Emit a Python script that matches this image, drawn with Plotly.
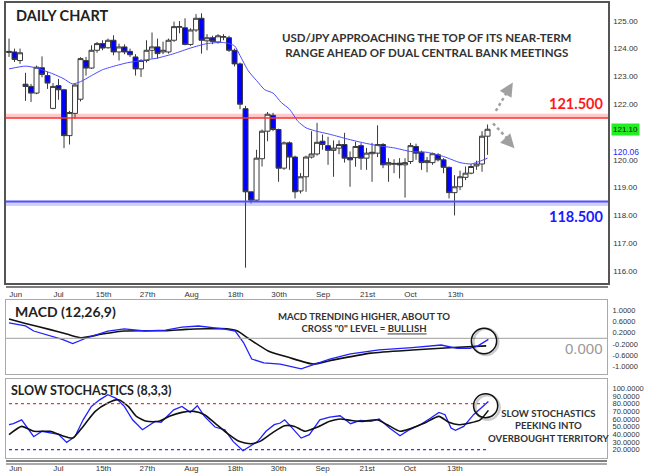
import plotly.graph_objects as go

W, H = 645, 475

# ---------------- data ----------------
candle_idx = list(range(88))
opens = [123.86, 123.88, 123.57, 122.72, 122.64, 122.40, 123.31, 123.03, 121.85, 122.67,
         122.52, 120.87, 121.67, 122.18, 123.57, 123.30, 123.94, 124.18, 124.03, 124.30,
         123.88, 124.06, 123.90, 123.70, 123.27, 123.57, 123.94, 124.06, 123.88, 123.88,
         124.30, 124.77, 124.75, 124.15, 124.67, 125.09, 124.28, 124.39, 124.24, 124.41,
         124.39, 123.94, 123.45, 121.84, 118.85, 118.55, 120.04, 121.03, 121.60, 121.09,
         119.70, 120.61, 120.10, 118.88, 119.39, 120.10, 120.21, 120.67, 120.51, 120.34,
         120.42, 120.55, 120.08, 120.08, 120.51, 120.06, 120.22, 120.24, 120.55, 119.82,
         119.84, 119.88, 119.82, 119.94, 120.48, 120.27, 119.90, 119.90, 120.18, 120.00,
         119.73, 118.82, 119.03, 119.37, 119.52, 119.78, 119.85, 120.85]
highs = [124.36, 124.00, 124.00, 123.13, 122.73, 123.39, 123.72, 123.17, 122.76, 122.91,
         122.55, 121.76, 122.73, 123.69, 123.70, 124.12, 124.24, 124.30, 124.36, 124.48,
         124.18, 124.15, 124.00, 123.80, 123.62, 124.30, 124.58, 124.36, 124.25, 124.36,
         124.97, 124.99, 125.09, 124.73, 125.24, 125.27, 124.52, 124.46, 124.52, 124.52,
         124.46, 124.00, 123.50, 121.94, 118.85, 120.36, 121.09, 121.72, 121.69, 121.12,
         120.66, 120.66, 120.15, 119.52, 120.15, 121.03, 121.33, 120.91, 120.83, 120.70,
         120.70, 120.97, 120.30, 120.65, 120.60, 120.43, 120.61, 121.24, 120.60, 120.06,
         120.02, 120.06, 120.06, 120.61, 120.58, 120.33, 120.10, 120.26, 120.24, 120.06,
         119.76, 119.45, 119.61, 119.76, 119.85, 119.97, 121.03, 121.27]
lows = [123.70, 123.52, 123.45, 122.12, 122.08, 122.36, 122.97, 122.55, 121.82, 122.16,
        120.42, 120.55, 121.48, 122.10, 123.03, 123.27, 123.85, 123.94, 124.00, 123.76,
        123.57, 123.80, 123.70, 123.03, 122.98, 123.50, 123.64, 123.64, 123.80, 123.82,
        124.24, 124.55, 124.12, 124.10, 124.60, 123.82, 123.94, 124.16, 124.18, 124.30,
        123.88, 123.36, 121.82, 116.12, 118.43, 118.48, 119.76, 120.67, 121.03, 119.21,
        119.64, 119.64, 118.61, 118.79, 118.85, 120.05, 120.15, 120.36, 119.82, 119.39,
        120.20, 119.90, 119.03, 119.75, 119.64, 119.64, 119.21, 120.10, 119.70, 119.21,
        119.52, 119.33, 118.64, 119.85, 120.00, 119.64, 119.55, 119.82, 119.94, 119.52,
        118.61, 118.00, 118.91, 119.27, 119.48, 119.64, 119.57, 120.18]
closes = [123.90, 123.61, 123.85, 122.64, 122.40, 123.33, 123.07, 122.76, 122.64, 122.52,
          120.87, 121.70, 122.69, 123.64, 123.30, 123.94, 124.18, 124.02, 124.30, 123.88,
          124.06, 123.88, 123.78, 123.27, 123.57, 123.94, 124.06, 123.82, 123.94, 124.30,
          124.79, 124.79, 124.15, 124.67, 125.09, 124.30, 124.39, 124.26, 124.46, 124.43,
          123.94, 123.45, 122.00, 118.85, 118.55, 120.06, 121.03, 121.64, 121.09, 119.70,
          120.61, 120.10, 118.85, 119.39, 120.10, 120.21, 120.63, 120.55, 120.34, 120.42,
          120.55, 120.06, 120.00, 120.48, 120.06, 120.24, 120.27, 120.55, 119.82, 119.90,
          119.87, 119.82, 119.90, 120.51, 120.24, 119.90, 119.97, 120.22, 120.00, 119.73,
          118.82, 119.03, 119.39, 119.52, 119.76, 119.85, 120.85, 121.10]

ma_idx = [0, 3, 5, 8, 10, 11.5, 13, 15, 17, 19.5, 21.5, 24, 27, 30, 33, 36, 39, 41, 42, 43.5,
          45, 46.5, 48, 49.5, 51, 52.5, 54, 55.5, 58.5, 61.5, 64, 67, 70, 73, 76, 79, 82, 84, 85.5, 87]
ma_vals = [123.27, 123.37, 123.30, 123.09, 122.91, 122.73, 122.81, 123.03, 123.24, 123.39,
           123.49, 123.57, 123.66, 123.82, 124.02, 124.18, 124.22, 124.10, 123.75, 123.20,
           122.85, 122.52, 122.40, 122.06, 121.82, 121.39, 121.15, 121.05, 120.91, 120.75,
           120.63, 120.51, 120.43, 120.30, 120.27, 120.12, 119.90, 119.85, 119.94, 120.06]

macd_idx = [0, 3, 4.5, 7, 9.7, 11.6, 14.2, 18, 21, 24.7, 28.5, 31.5, 34.5, 39, 41.2,
            42.7, 44.2, 46.4, 49.4, 53.2, 55.4, 58.4, 62.2, 67.4, 73.4, 78.7, 81.6, 83.9, 85.4, 87.3]
macd_vals = [0.55, 0.44, 0.26, 0.12, -0.04, -0.19, 0.02, 0.26, 0.34, 0.26, 0.29, 0.40, 0.44, 0.34, 0.26,
             -0.15, -0.74, -0.88, -0.92, -1.09, -0.95, -0.74, -0.56, -0.41, -0.33, -0.24, -0.36, -0.36, -0.27, -0.04]
signal_idx = [0, 3, 7.5, 10.5, 13.1, 17.2, 21, 28.5, 32.2, 35.9, 39.7, 41.6, 43.4, 47.2, 50.9,
              55.4, 58.4, 65.9, 73.4, 80.9, 86.9]
signal_vals = [0.69, 0.53, 0.31, 0.15, 0.02, 0.16, 0.26, 0.27, 0.32, 0.34, 0.34, 0.26, 0.02, -0.45, -0.68,
               -0.92, -0.80, -0.53, -0.42, -0.33, -0.27]

stoch_k_idx = [0, 0.8, 2.3, 3.4, 4.5, 6.0, 7.5, 9.0, 10.5, 12.0, 13.5, 15.0, 16.5, 18.0, 19.5, 21.0,
               22.5, 24.3, 26.6, 27.7, 30.0, 31.5, 33.0, 34.3, 35.6, 37.5, 39.3, 40.8, 42.6, 43.8,
               45.3, 46.8, 48.3, 49.4, 50.2, 51.3, 53.2, 54.7, 56.6, 58.4, 60.3, 62.2, 64.0, 65.9,
               67.4, 69.3, 71.2, 72.7, 74.9, 76.8, 78.3, 79.4, 80.5, 81.3, 82.8, 84.6, 86.1, 87.3]
stoch_k_vals = [52.6, 54.0, 59.0, 48.0, 37.0, 44.0, 42.0, 40.0, 29.6, 37.0, 59.0, 76.5, 85.0, 91.7, 87.0, 76.5,
                59.0, 46.0, 57.0, 55.7, 72.0, 76.5, 68.7, 77.4, 63.5, 49.6, 46.0, 30.9, 18.7, 24.3,
                30.9, 44.0, 52.6, 54.8, 59.0, 50.4, 35.2, 39.6, 59.0, 62.6, 64.3, 53.9, 58.3, 57.0,
                60.0, 48.3, 38.3, 45.2, 52.6, 61.3, 68.7, 65.7, 48.3, 45.2, 50.4, 65.7, 75.7, 83.0]
stoch_d_idx = [0, 2.3, 4.5, 7.5, 9.7, 11.6, 13.5, 15.7, 18.0, 19.9, 21.7, 23.2, 25.1, 27.3, 29.2,
               31.5, 33.7, 35.6, 37.5, 39.7, 41.9, 44.0, 45.7, 47.9, 50.2, 52.0, 53.9, 56.2, 58.4,
               60.3, 62.2, 64.4, 67.0, 68.9, 71.2, 73.4, 75.7, 78.3, 80.1, 82.0, 83.9, 85.8, 87.3]
stoch_d_vals = [39.6, 50.4, 44.0, 44.0, 38.3, 35.2, 50.4, 70.0, 80.9, 85.2, 76.5, 63.5, 57.0, 57.0, 63.5,
                68.7, 70.0, 65.7, 54.8, 41.7, 30.9, 27.8, 30.9, 41.7, 51.3, 50.4, 44.0, 49.6, 57.0,
                60.0, 58.3, 57.0, 59.0, 52.6, 44.0, 48.3, 54.8, 63.5, 55.7, 52.6, 54.8, 59.0, 71.3]

date_tick_pos = [1.2, 9.0, 17.2, 25.2, 33.2, 41.2, 49.1, 57.1, 65.2, 73.0, 81.2]
date_tick_labels = ["Jun", "Jul", "15th", "27th", "Aug", "18th", "30th", "Sep", "21st", "Oct", "13th"]
price_ticks = [116, 117, 118, 119, 120, 121, 122, 123, 124, 125]
price_tick_labels = ["116.00", "117.00", "118.00", "119.00", "120.00", "121.00", "122.00", "123.00", "124.00", "125.00"]
macd_ticks = [1.0, 0.6, 0.2, -0.2, -0.6, -1.0]
macd_tick_labels = ["1.0000", "0.6000", "0.2000", "-0.2000", "-0.6000", "-1.0000"]
stoch_ticks = [100, 90, 80, 70, 60, 50, 40, 30, 20]
stoch_tick_labels = ["100.0000", "90.0000", "80.0000", "70.0000", "60.0000", "50.0000", "40.0000", "30.0000", "20.0000"]

resistance = 121.5
support = 118.5
overbought = 80
oversold = 20

# ---------------- helpers (layout only) ----------------
def px(x):
    return x / W

def py(y):
    return 1 - y / H

TXT = "Lato"
AX = "Liberation Sans"
XR = [-0.55, 108.9]

fig = go.Figure()

fig.add_trace(go.Candlestick(
    x=candle_idx, open=opens, high=highs, low=lows, close=closes,
    increasing=dict(line=dict(color="#3a3a3a", width=1), fillcolor="white"),
    decreasing=dict(line=dict(color="#3a3a3a", width=1), fillcolor="#0000ff"),
    whiskerwidth=0, hoverinfo="skip", xaxis="x", yaxis="y", showlegend=False))

fig.add_trace(go.Scatter(x=ma_idx, y=ma_vals, mode="lines",
                         line=dict(color="#4a4aff", width=1, shape="spline", smoothing=0.6),
                         hoverinfo="skip", xaxis="x", yaxis="y", showlegend=False))

fig.add_trace(go.Scatter(x=signal_idx, y=signal_vals, mode="lines",
                         line=dict(color="#111111", width=1.6, shape="spline", smoothing=0.6),
                         hoverinfo="skip", xaxis="x2", yaxis="y2", showlegend=False))
fig.add_trace(go.Scatter(x=macd_idx, y=macd_vals, mode="lines",
                         line=dict(color="#2020ff", width=1.3),
                         hoverinfo="skip", xaxis="x2", yaxis="y2", showlegend=False))

fig.add_trace(go.Scatter(x=stoch_k_idx, y=stoch_k_vals, mode="lines",
                         line=dict(color="#2020ff", width=1.3),
                         hoverinfo="skip", xaxis="x3", yaxis="y3", showlegend=False))
fig.add_trace(go.Scatter(x=stoch_d_idx, y=stoch_d_vals, mode="lines",
                         line=dict(color="#111111", width=1.6, shape="spline", smoothing=0.6),
                         hoverinfo="skip", xaxis="x3", yaxis="y3", showlegend=False))

axfont = dict(family=AX, size=8, color="#333333")

fig.update_layout(
    width=W, height=H, margin=dict(l=0, r=0, t=0, b=0),
    paper_bgcolor="white", plot_bgcolor="white",
    boxgap=0.05, boxgroupgap=0.05,
    showlegend=False,
    xaxis=dict(domain=[px(6), px(608)], range=XR, anchor="y",
               showgrid=False, zeroline=False, showline=True, linecolor="#555555", linewidth=1.5, mirror=True,
               tickmode="array", tickvals=date_tick_pos, ticktext=date_tick_labels, ticks="",
               tickfont=axfont, ticklabelstandoff=3, rangeslider=dict(visible=False), automargin=False),
    yaxis=dict(domain=[py(283), py(3)], range=[115.57, 125.64], anchor="x", side="right",
               showgrid=False, zeroline=False, showline=True, linecolor="#555555", linewidth=1.5, mirror=True,
               tickmode="array", tickvals=price_ticks, ticktext=price_tick_labels, ticks="",
               tickfont=axfont, ticklabelstandoff=2, automargin=False),
    xaxis2=dict(domain=[px(6), px(607)], range=XR, anchor="y2",
                showgrid=False, zeroline=False, showline=True, linecolor="#aaaaaa", mirror=True,
                showticklabels=False, ticks="", automargin=False),
    yaxis2=dict(domain=[py(374), py(300)], range=[-1.275, 1.368], anchor="x2", side="right",
                showgrid=False, zeroline=False, showline=True, linecolor="#aaaaaa", mirror=True,
                tickmode="array", tickvals=macd_ticks, ticktext=macd_tick_labels, ticks="",
                tickfont=dict(family=AX, size=7.5, color="#333333"), ticklabelstandoff=3, automargin=False),
    xaxis3=dict(domain=[px(6), px(607)], range=XR, anchor="y3",
                showgrid=False, zeroline=False, showline=True, linecolor="#aaaaaa", mirror=True,
                tickmode="array", tickvals=date_tick_pos, ticktext=date_tick_labels, ticks="",
                tickfont=axfont, ticklabelstandoff=2, automargin=False),
    yaxis3=dict(domain=[py(458), py(379)], range=[9.2, 112.2], anchor="x3", side="right",
                showgrid=False, zeroline=False, showline=True, linecolor="#aaaaaa", mirror=True,
                tickmode="array", tickvals=stoch_ticks, ticktext=stoch_tick_labels, ticks="",
                tickfont=dict(family=AX, size=7.5, color="#333333"), ticklabelstandoff=3, automargin=False),
)

shapes = [
    # resistance band & line
    dict(type="rect", xref="x domain", yref="y", x0=0, x1=1, y0=resistance, y1=resistance + 0.16,
         fillcolor="rgba(255,60,60,0.28)", line=dict(width=0), layer="below"),
    dict(type="line", xref="x domain", yref="y", x0=0, x1=1, y0=resistance, y1=resistance,
         line=dict(color="#ff3030", width=1.5)),
    # support band & line
    dict(type="rect", xref="x domain", yref="y", x0=0, x1=1, y0=support - 0.16, y1=support,
         fillcolor="rgba(90,90,255,0.28)", line=dict(width=0), layer="below"),
    dict(type="line", xref="x domain", yref="y", x0=0, x1=1, y0=support, y1=support,
         line=dict(color="#5050ff", width=2)),
    # second bottom lines (double rule)
    dict(type="line", xref="paper", yref="paper", x0=px(6), x1=px(608), y0=py(287), y1=py(287),
         line=dict(color="#555555", width=1.5)),
    dict(type="line", xref="paper", yref="paper", x0=px(6), x1=px(607), y0=py(461), y1=py(461),
         line=dict(color="#555555", width=1.5)),
    dict(type="line", xref="paper", yref="paper", x0=px(6), x1=px(607), y0=py(464), y1=py(464),
         line=dict(color="#555555", width=1.2)),
    # MACD zero line
    dict(type="line", xref="x2 domain", yref="y2", x0=0, x1=1, y0=0, y1=0,
         line=dict(color="#a0a0a0", width=1)),
    # stochastic levels
    dict(type="line", xref="x3", yref="y3", x0=0, x1=candle_idx[-1], y0=overbought, y1=overbought,
         line=dict(color="#ff3030", width=1.2, dash="dot")),
    dict(type="line", xref="x3", yref="y3", x0=0, x1=candle_idx[-1], y0=oversold, y1=oversold,
         line=dict(color="#3030ff", width=1.2, dash="dot")),
    # circles (shadow + ring)
    dict(type="circle", xref="x2", yref="y2", x0=84.6, x1=89.1, y0=-0.60, y1=0.34,
         line=dict(color="rgba(0,0,0,0.2)", width=2.5)),
    dict(type="circle", xref="x2", yref="y2", x0=84.2, x1=88.8, y0=-0.55, y1=0.36,
         line=dict(color="#111111", width=1.5)),
    dict(type="circle", xref="x3", yref="y3", x0=84.95, x1=89.35, y0=59.2, y1=91.0,
         line=dict(color="rgba(0,0,0,0.2)", width=2.5)),
    dict(type="circle", xref="x3", yref="y3", x0=84.6, x1=89.0, y0=61.8, y1=93.0,
         line=dict(color="#111111", width=1.5)),
    # dotted arrows
    dict(type="line", xref="x", yref="y", x0=88.5, x1=90.9, y0=121.76, y1=122.55,
         line=dict(color="#a0a0a0", width=2.5, dash="dot")),
    dict(type="line", xref="x", yref="y", x0=88.0, x1=91.2, y0=121.31, y1=120.64,
         line=dict(color="#a0a0a0", width=2.5, dash="dot")),
]
fig.update_layout(shapes=shapes)

ann = [
    dict(text="<b>DAILY CHART</b>", xref="paper", yref="paper", x=px(14), y=py(16),
         xanchor="left", yanchor="middle", showarrow=False,
         font=dict(family=TXT, size=14.5, color="#222222")),
    dict(text="<b>USD/JPY APPROACHING THE TOP OF ITS NEAR-TERM<br>RANGE AHEAD OF DUAL CENTRAL BANK MEETINGS</b>",
         xref="paper", yref="paper", x=px(426), y=py(45), xanchor="center", yanchor="middle",
         showarrow=False, align="center", font=dict(family=TXT, size=11.5, color="#333333")),
    dict(text="<b>%.3f</b>" % resistance, xref="paper", yref="y", x=px(605), y=resistance + 0.16,
         xanchor="right", yanchor="bottom", showarrow=False,
         font=dict(family=TXT, size=14.5, color="#ff1a1a")),
    dict(text="<b>%.3f</b>" % support, xref="paper", yref="y", x=px(605), y=support - 0.16,
         xanchor="right", yanchor="top", showarrow=False,
         font=dict(family=TXT, size=14.5, color="#1a1aff")),
    dict(text="%.2f" % closes[-1], xref="paper", yref="y", x=px(610.5), y=closes[-1],
         xanchor="left", yanchor="middle", showarrow=False, bgcolor="#22ee22", borderpad=1,
         font=dict(family=AX, size=8, color="#111111")),
    dict(text="%.2f" % ma_vals[-1], xref="paper", yref="y", x=px(610.5), y=ma_vals[-1], yshift=6,
         xanchor="left", yanchor="middle", showarrow=False,
         font=dict(family=AX, size=8.5, color="#2a2aff")),
    # arrow heads
    dict(text="", xref="x", yref="y", x=91.6, y=122.78, showarrow=True, arrowhead=2, arrowsize=1.1,
         arrowwidth=2.5, arrowcolor="#a0a0a0", ax=-4, ay=6.5, standoff=0),
    dict(text="", xref="x", yref="y", x=91.9, y=120.42, showarrow=True, arrowhead=2, arrowsize=1.1,
         arrowwidth=2.5, arrowcolor="#a0a0a0", ax=-4.8, ay=-5.2, standoff=0),
    # MACD panel
    dict(text="<b>MACD (12,26,9)</b>", xref="paper", yref="paper", x=px(13), y=py(311),
         xanchor="left", yanchor="middle", showarrow=False,
         font=dict(family=TXT, size=14, color="#222222")),
    dict(text="<b>MACD TRENDING HIGHER, ABOUT TO<br>CROSS \"0\" LEVEL = <u>BULLISH</u></b>",
         xref="paper", yref="paper", x=px(364), y=py(322), xanchor="center", yanchor="middle",
         showarrow=False, align="center", font=dict(family=TXT, size=9.6, color="#333333")),
    dict(text="0.000", xref="paper", yref="paper", x=px(605), y=py(348), xanchor="right", yanchor="middle",
         showarrow=False, font=dict(family=AX, size=15, color="#9a9a9a")),
    # Stochastics panel
    dict(text="<b>SLOW STOCHASTICS (8,3,3)</b>", xref="paper", yref="paper", x=px(9), y=py(390),
         xanchor="left", yanchor="middle", showarrow=False,
         font=dict(family=TXT, size=12.5, color="#222222")),
    dict(text="<b>SLOW STOCHASTICS<br>PEEKING INTO<br>OVERBOUGHT TERRITORY</b>",
         xref="paper", yref="paper", x=px(549), y=py(426), xanchor="center", yanchor="middle",
         showarrow=False, align="center", font=dict(family=TXT, size=9.6, color="#333333")),
]
fig.update_layout(annotations=ann)

fig.write_html("out.html")
